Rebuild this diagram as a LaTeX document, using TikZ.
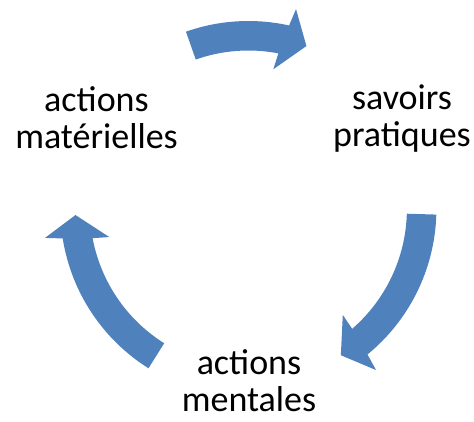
\documentclass[tikz,border=0pt]{standalone}
\usepackage{fontspec}
\setmainfont{Carlito}
\definecolor{cycblue}{RGB}{79,129,189}
\tikzset{
  cycarrow/.style={fill=cycblue, draw=none},
  cyclabel/.style={font=\fontsize{36}{37.3}\selectfont, align=center, anchor=base, inner sep=0pt, text=black}
}
% #1 tail angle, #2 head-base angle, #3 tip angle
\newcommand\cyclarrow[3]{%
  \fill[cycarrow] ([shift={(c)}]#1:188) arc[start angle=#1, end angle=#2-0.75, radius=188]
    -- ([shift={(c)}]#2-1.65:205.5) -- ([shift={(c)}]#3:173)
    -- ([shift={(c)}]#2+1.65:141.9) -- ([shift={(c)}]#2+0.85:158.5)
    arc[start angle=#2+0.85, end angle=#1, radius=158.5] -- cycle;}
\begin{document}
\begin{tikzpicture}[x=1pt,y=1pt]
\useasboundingbox (0,0) rectangle (474,-421);
\coordinate (c) at (248.4,-209);
\cyclarrow{109.4}{78.25}{70.4}
\cyclarrow{-1.7}{-49.95}{-57.7}
\cyclarrow{237.9}{189.75}{182}
\node[cyclabel] (mat) at (96.5,-148.3) {actions\\matérielles};
\node[cyclabel] (sav) at (402,-146.7) {savoirs\\pratiques};
\node[cyclabel] (men) at (249,-411.7) {actions\\mentales};
\end{tikzpicture}
\end{document}
